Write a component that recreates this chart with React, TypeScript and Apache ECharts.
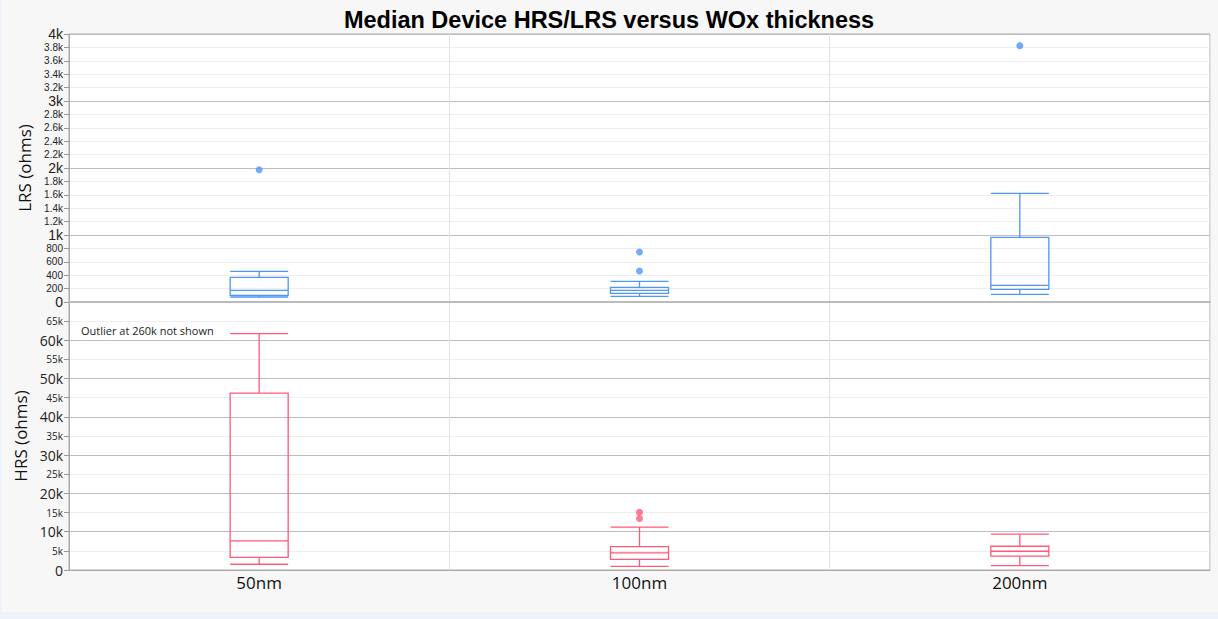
import React, { useEffect, useRef } from "react";
import * as echarts from "echarts";

const categories = ["50nm", "100nm", "200nm"];
// [min, Q1, median, Q3, max]
const lrsBoxes = [
  [75, 100, 175, 368, 458],
  [85, 130, 175, 219, 308],
  [115, 189, 249, 966, 1622],
];
const lrsOutliers = [
  [0, 1975],
  [1, 746],
  [1, 463],
  [2, 3826],
];
const hrsBoxes = [
  [1500, 3300, 7600, 46200, 61750],
  [960, 2800, 4450, 6100, 11200],
  [1130, 3600, 4900, 6200, 9350],
];
const hrsOutliers = [
  [1, 15100],
  [1, 13450],
];

const BLUE = "#4f96f5";
const RED = "#ff5a78";

function fmtK(v: number): string {
  if (v === 0) return "0";
  if (v < 1000) return String(v);
  return v / 1000 + "k";
}

export default function App() {
  const ref = useRef<HTMLDivElement>(null);
  useEffect(() => {
    if (!ref.current) return;
    const chart = echarts.init(ref.current, null, { renderer: "svg" });
    const labelRich = {
      big: { fontSize: 14, color: "#222", fontFamily: "Liberation Sans" },
      small: { fontSize: 10, color: "#222", fontFamily: "Liberation Sans" },
    };
    const bigLabelRich = {
      big: { fontSize: 14, color: "#222", fontFamily: "Open Sans" },
      small: { fontSize: 10, color: "#222", fontFamily: "Open Sans" },
    };
    chart.setOption({
      animation: false,
      backgroundColor: "#f7f7f7",
      title: {
        text: "Median Device HRS/LRS versus WOx thickness",
        left: "center",
        top: 3,
        textStyle: {
          fontSize: 23.5,
          fontWeight: "bold",
          color: "#000",
          fontFamily: "Liberation Sans",
        },
      },
      graphic: [
        {
          type: "rect",
          shape: { x: 0, y: 612, width: 1218, height: 7 },
          style: { fill: "#eef2f9" },
          silent: true,
        },
        {
          type: "rect",
          shape: { x: 0, y: 0, width: 2, height: 619 },
          style: { fill: "#eef2f9" },
          silent: true,
        },
        {
          type: "text",
          x: 81,
          y: 330,
          style: {
            text: "Outlier at 260k not shown",
            fontSize: 11,
            fontFamily: "Open Sans",
            fill: "#222",
            textVerticalAlign: "middle",
          },
          z: 10,
        },
      ],
      grid: [
        {
          left: 69,
          right: 8,
          top: 34,
          height: 268,
          show: true,
          backgroundColor: "#fff",
          borderColor: "#aaa",
          borderWidth: 1,
        },
        {
          left: 69,
          right: 8,
          top: 302,
          height: 268,
          show: true,
          backgroundColor: "#fff",
          borderColor: "#aaa",
          borderWidth: 1,
        },
      ],
      xAxis: [
        {
          type: "category",
          gridIndex: 0,
          data: categories,
          axisLabel: { show: false },
          axisTick: { show: false },
          axisLine: { show: true, lineStyle: { color: "#bbb", width: 2 } },
          splitLine: { show: true, lineStyle: { color: "#e2e2e2" } },
        },
        {
          type: "category",
          gridIndex: 1,
          data: categories,
          axisLabel: {
            fontSize: 17,
            color: "#111",
            fontFamily: "Open Sans",
            margin: 4,
          },
          axisTick: { show: false },
          axisLine: { show: true, lineStyle: { color: "#aaa" } },
          splitLine: { show: true, lineStyle: { color: "#e2e2e2" } },
        },
      ],
      yAxis: [
        {
          type: "value",
          gridIndex: 0,
          min: 0,
          max: 4000,
          interval: 200,
          name: "LRS (ohms)",
          nameLocation: "middle",
          nameGap: 36,
          nameTextStyle: { fontSize: 17, color: "#111", fontFamily: "Open Sans" },
          axisLine: { show: true, lineStyle: { color: "#aaa" } },
          axisTick: { show: true, length: 5, lineStyle: { color: "#999" } },
          axisLabel: {
            margin: 6,
            rich: labelRich,
            formatter: (v: number) =>
              v % 1000 === 0 ? `{big|${fmtK(v)}}` : `{small|${fmtK(v)}}`,
          },
          splitLine: { show: true, lineStyle: { color: "#eeeeee" } },
        },
        {
          type: "value",
          gridIndex: 1,
          min: 0,
          max: 70000,
          interval: 5000,
          name: "HRS (ohms)",
          nameLocation: "middle",
          nameGap: 36,
          nameTextStyle: { fontSize: 17, color: "#111", fontFamily: "Open Sans" },
          axisLine: { show: true, lineStyle: { color: "#aaa" } },
          axisTick: { show: true, length: 5, lineStyle: { color: "#999" } },
          axisLabel: {
            margin: 6,
            rich: bigLabelRich,
            formatter: (v: number) => {
              if (v === 70000) return "";
              return v % 10000 === 0 ? `{big|${fmtK(v)}}` : `{small|${fmtK(v)}}`;
            },
          },
          splitLine: { show: true, lineStyle: { color: "#eeeeee" } },
        },
        {
          type: "value",
          gridIndex: 0,
          min: 0,
          max: 4000,
          interval: 1000,
          axisLine: { show: false },
          axisTick: { show: false },
          axisLabel: { show: false },
          splitLine: { show: true, lineStyle: { color: "#bdbdbd" } },
        },
        {
          type: "value",
          gridIndex: 1,
          min: 0,
          max: 70000,
          interval: 10000,
          axisLine: { show: false },
          axisTick: { show: false },
          axisLabel: { show: false },
          splitLine: { show: true, lineStyle: { color: "#bdbdbd" } },
        },
      ],
      series: [
        {
          type: "boxplot",
          xAxisIndex: 0,
          yAxisIndex: 0,
          data: lrsBoxes,
          boxWidth: [58, 58],
          itemStyle: { color: "rgba(255,255,255,0)", borderColor: BLUE, borderWidth: 1.3 },
          z: 5,
        },
        {
          type: "scatter",
          xAxisIndex: 0,
          yAxisIndex: 0,
          data: lrsOutliers,
          symbolSize: 7,
          itemStyle: { color: BLUE },
          z: 6,
        },
        {
          type: "boxplot",
          xAxisIndex: 1,
          yAxisIndex: 1,
          data: hrsBoxes,
          boxWidth: [58, 58],
          itemStyle: { color: "rgba(255,255,255,0)", borderColor: RED, borderWidth: 1.3 },
          z: 5,
        },
        {
          type: "scatter",
          xAxisIndex: 1,
          yAxisIndex: 1,
          data: hrsOutliers,
          symbolSize: 7,
          itemStyle: { color: RED },
          z: 6,
        },
      ],
    });
    return () => chart.dispose();
  }, []);
  return (
    <div
      ref={ref}
      style={{ position: "fixed", left: 0, top: 0, width: 1218, height: 619 }}
    />
  );
}
